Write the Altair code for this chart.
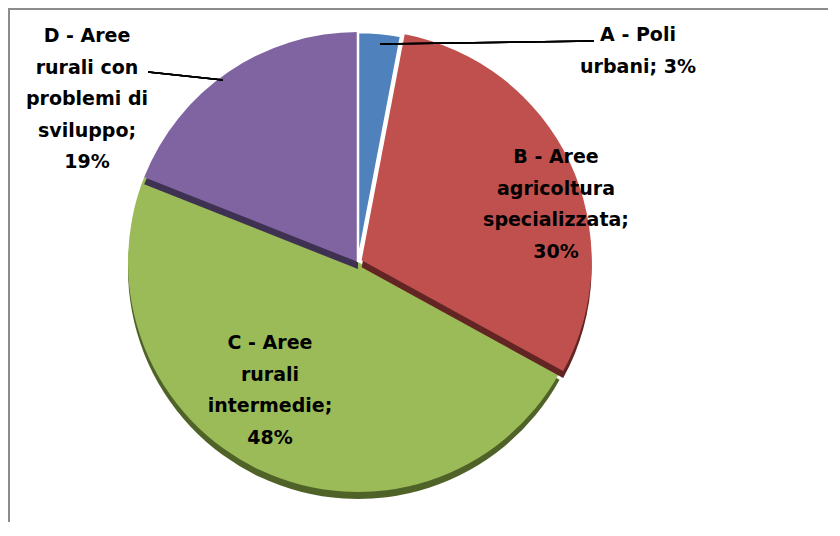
import math
import altair as alt
import pandas as pd

# ---------------- data ----------------
codes = ["A", "B", "C", "D"]
categories = [
    "A - Poli urbani",
    "B - Aree agricoltura specializzata",
    "C - Aree rurali intermedie",
    "D - Aree rurali con problemi di sviluppo",
]
shares = [3, 30, 48, 19]
label_lines = [
    ["A - Poli", "urbani; 3%"],
    ["B - Aree", "agricoltura", "specializzata;", "30%"],
    ["C - Aree", "rurali", "intermedie;", "48%"],
    ["D - Aree", "rurali con", "problemi di", "sviluppo;", "19%"],
]

# ---------------- style ----------------
top_colors = {"A": "#4f81bd", "B": "#c0504d", "C": "#9bbb59", "D": "#8064a2"}
side_colors = {"A": "#2c4d75", "B": "#632523", "C": "#4f6228", "D": "#3f3151"}
explode = {"A": 0, "B": 4, "C": 0, "D": 0}
W, H = 820, 514
CX, CY, R, DEPTH = 350, 254, 230, 7
FONT = "DejaVu Sans"
FS = 19
LH = 31.5
label_pos = {"A": (630, 27), "B": (548, 149), "C": (262, 335), "D": (79, 28)}

df = pd.DataFrame({"code": codes, "category": categories, "share": shares,
                   "order": list(range(len(codes)))})

base = (
    alt.Chart(df)
    .transform_window(end="sum(share)", sort=[alt.SortField("order")], frame=[None, 0])
    .transform_calculate(start="datum.end - datum.share")
    .transform_calculate(mid="(datum.start + datum.end) / 100 * PI")
)

theta_scale = alt.Scale(domain=[0, 100], range=[0, 2 * math.pi])


def slice_layer(code, side=False, stroke=None):
    e = explode[code]
    shift = DEPTH if side else 0
    color = side_colors[code] if side else top_colors[code]
    mark_kw = dict(outerRadius=R, color=color)
    if stroke:
        mark_kw.update(stroke="white", strokeWidth=stroke)
    return (
        base.transform_filter(alt.datum.code == code)
        .transform_calculate(cx=f"{CX} + {e} * sin(datum.mid)")
        .transform_calculate(cy=f"{CY} - {e} * cos(datum.mid) + {shift}")
        .mark_arc(**mark_kw)
        .encode(
            theta=alt.Theta("start:Q", scale=theta_scale, stack=None),
            theta2="end:Q",
            x=alt.X("cx:Q", scale=None, axis=None),
            y=alt.Y("cy:Q", scale=None, axis=None),
        )
    )


layers = [
    slice_layer("C", side=True),
    slice_layer("C"),
    slice_layer("B", side=True),
    slice_layer("B"),
    slice_layer("D", side=True),
    slice_layer("D"),
    slice_layer("A", stroke=2.5),
]

# labels
rows = []
for code, lines in zip(codes, label_lines):
    x0, y0 = label_pos[code]
    for i, t in enumerate(lines):
        rows.append({"code": code, "text": t, "x": x0, "y": y0 + i * LH})
labels_df = pd.DataFrame(rows)

labels = alt.Chart(labels_df).mark_text(
    font=FONT, fontWeight="bold", fontSize=FS, color="black",
    align="center", baseline="middle"
).encode(
    x=alt.X("x:Q", scale=None, axis=None),
    y=alt.Y("y:Q", scale=None, axis=None),
    text="text:N",
)

leader_a = alt.Chart(df).mark_rule(color="black", strokeWidth=1.4).encode(
    x=alt.value(372), y=alt.value(36), x2=alt.value(586), y2=alt.value(33))
leader_d = alt.Chart(df).mark_rule(color="black", strokeWidth=1.4).encode(
    x=alt.value(140), y=alt.value(64), x2=alt.value(215), y2=alt.value(72))

border_left = alt.Chart(df).mark_rule(color="#8c8c8c", strokeWidth=2).encode(
    x=alt.value(1), y=alt.value(0), y2=alt.value(H))
border_top = alt.Chart(df).mark_rule(color="#8c8c8c", strokeWidth=2).encode(
    x=alt.value(0), x2=alt.value(W), y=alt.value(1))

chart = alt.layer(
    *layers, leader_a, leader_d, labels, border_left, border_top
).properties(
    width=W, height=H,
    autosize=alt.AutoSizeParams(type="none"),
    padding=0,
).configure_view(stroke=None)

chart.save("out.html", embed_options={"renderer": "svg", "actions": False})
